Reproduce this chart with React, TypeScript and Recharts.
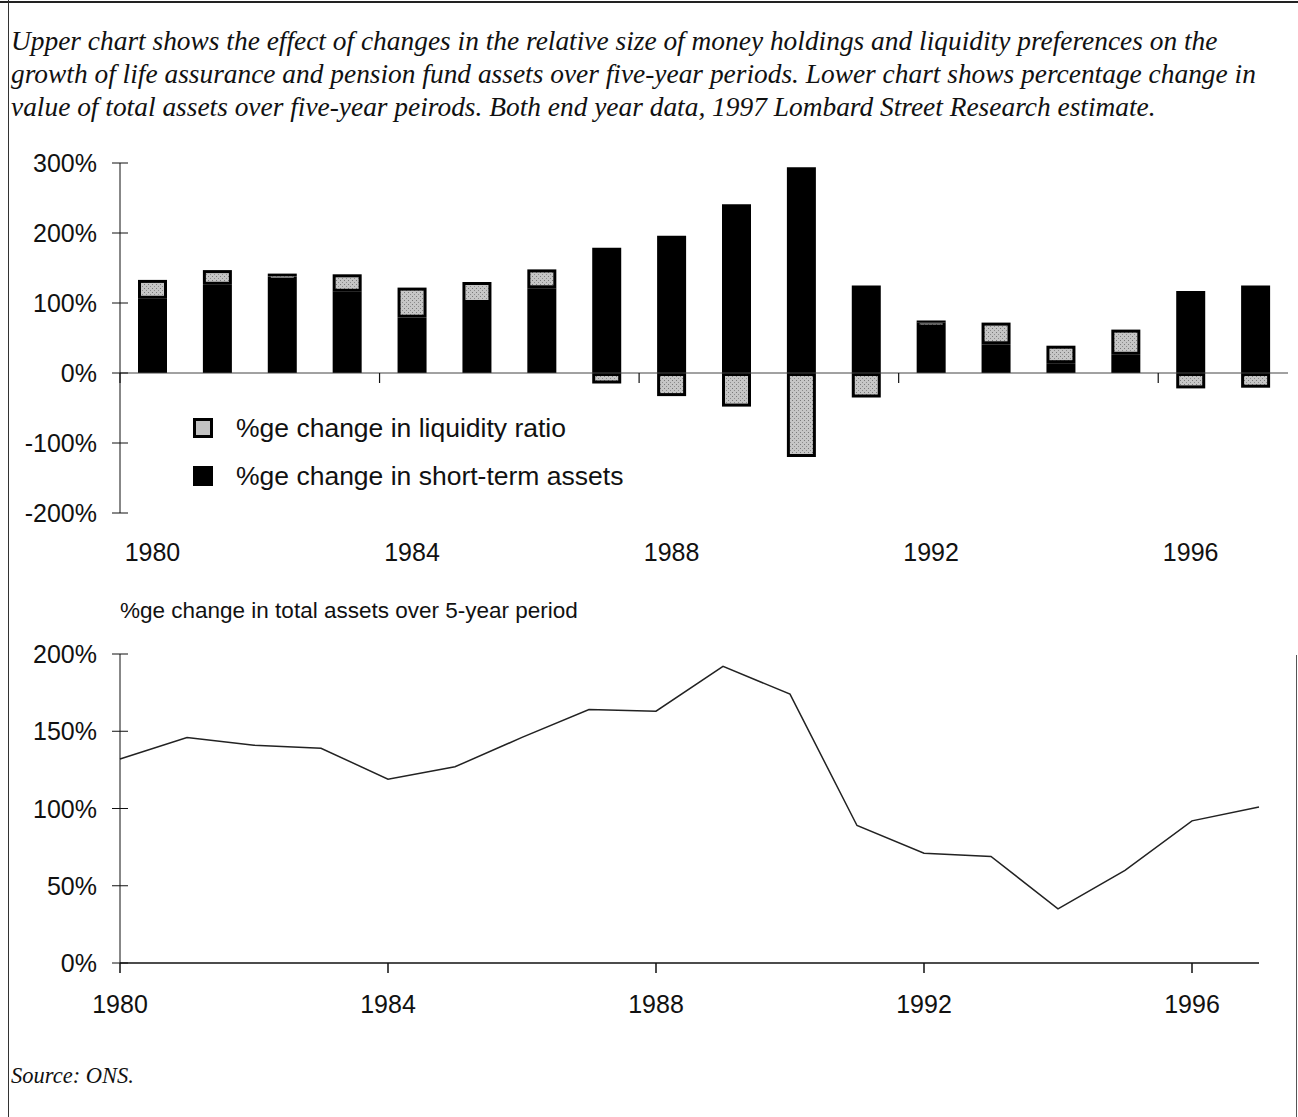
import { BarChart, Bar, XAxis, YAxis, ReferenceLine, Legend, LineChart, Line } from 'recharts'

const years = [1980, 1981, 1982, 1983, 1984, 1985, 1986, 1987, 1988, 1989, 1990, 1991, 1992, 1993, 1994, 1995, 1996, 1997]
const shortTermChange = [106, 126, 138, 116, 79, 100, 121, 179, 196, 241, 294, 125, 72, 41, 14, 26, 117, 125]
const liquidityChange = [27, 21, 4, 25, 43, 30, 27, -15, -33, -48, -120, -35, 3, 31, 25, 36, -22, -21]
const totalAssetsChange = [132, 146, 141, 139, 119, 127, 146, 164, 163, 192, 174, 89, 71, 69, 35, 60, 92, 101]

const upperTicks = [-200, -100, 0, 100, 200, 300]
const lowerTicks = [0, 50, 100, 150, 200]
const yearTicks = [1980, 1984, 1988, 1992, 1996]

const barData = years.map((y, i) => ({
  year: String(y),
  shortTerm: shortTermChange[i],
  liquidity: liquidityChange[i],
}))

const lineData = years.map((y, i) => ({ year: y, total: totalAssetsChange[i] }))

const SANS = '"Liberation Sans", Arial, Helvetica, sans-serif'
const SERIF = '"Liberation Serif", "Times New Roman", serif'
const INK = '#111'

function PercentTick({ x, y, payload }: any) {
  return (
    <g>
      <line x1={x - 8} x2={x + 8} y1={y} y2={y} stroke={INK} strokeWidth={1} />
      <text x={x - 23} y={y} dy="0.36em" textAnchor="end" fontSize={25} fontFamily={SANS} fill={INK}>
        {payload.value}%
      </text>
    </g>
  )
}

function BarYearTick({ x, y, payload }: any) {
  return (
    <text x={x} y={y} dy={48} textAnchor="middle" fontSize={25} fontFamily={SANS} fill={INK}>
      {payload.value}
    </text>
  )
}

function LineYearTick({ x, y, payload }: any) {
  return (
    <g>
      <line x1={x} x2={x} y1={y} y2={y + 10} stroke={INK} strokeWidth={1.5} />
      <text x={x} y={y} dy={50} textAnchor="middle" fontSize={25} fontFamily={SANS} fill={INK}>
        {payload.value}
      </text>
    </g>
  )
}

// grey box with a black frame, like the scanned original
function LiquidityShape({ x, y, width, height }: any) {
  if (!height) return null
  const top = Math.min(y, y + height)
  const h = Math.abs(height)
  const inset = 3
  return (
    <g>
      <rect x={x} y={top} width={width} height={h} fill="#000" />
      <rect
        x={x + inset}
        y={top + inset}
        width={width - inset * 2}
        height={Math.max(1, h - inset * 2)}
        fill="url(#stipple)"
      />
    </g>
  )
}

// zero line with small ticks on every fourth category boundary
function ZeroAxis({ x1, x2, y1 }: any) {
  const band = (x2 - x1) / years.length
  const marks = [0, 4, 8, 12, 16]
  return (
    <g>
      <line x1={x1} x2={x2} y1={y1} y2={y1} stroke="#444" strokeWidth={1} />
      {marks.map((m) => (
        <line key={m} x1={x1 + m * band} x2={x1 + m * band} y1={y1} y2={y1 + 10} stroke={INK} strokeWidth={1.2} />
      ))}
    </g>
  )
}

function LegendBox({ payload }: any) {
  const items = [...(payload || [])].sort((a: any, b: any) =>
    a.dataKey === 'liquidity' ? -1 : b.dataKey === 'liquidity' ? 1 : 0
  )
  return (
    <div style={{ fontFamily: SANS, fontSize: 26.5, color: INK }}>
      {items.map((item: any) => (
        <div key={item.dataKey} style={{ display: 'flex', alignItems: 'center', height: 48 }}>
          <span
            style={{
              display: 'inline-block',
              width: 20,
              height: 20,
              boxSizing: 'border-box',
              background: item.dataKey === 'liquidity' ? '#c2c2c2' : '#000',
              border: '3px solid #000',
              marginRight: 23,
            }}
          />
          <span>{item.value}</span>
        </div>
      ))}
    </div>
  )
}

const captionLines = [
  'Upper chart shows the effect of changes in the relative size of money holdings and liquidity preferences on the',
  'growth of life assurance and pension fund assets over five-year periods. Lower chart shows percentage change in',
  'value of total assets over five-year peirods. Both end year data, 1997 Lombard Street Research estimate.',
]

export default function App() {
  return (
    <div style={{ position: 'absolute', left: 0, top: 0, width: 1298, height: 1117, background: '#fff' }}>
      {/* page frame */}
      <div style={{ position: 'absolute', left: 0, top: 1, width: 1298, height: 2, background: '#222' }} />
      <div style={{ position: 'absolute', left: 8, top: 0, width: 1, height: 1117, background: '#333' }} />
      <div style={{ position: 'absolute', left: 1296, top: 655, width: 1, height: 462, background: '#555' }} />

      <div
        style={{
          position: 'absolute',
          left: 11,
          top: 25,
          fontFamily: SERIF,
          fontStyle: 'italic',
          fontSize: 27.4,
          lineHeight: '33px',
          color: INK,
          whiteSpace: 'nowrap',
        }}
      >
        {captionLines.map((l) => (
          <div key={l}>{l}</div>
        ))}
      </div>

      <div style={{ position: 'absolute', left: 0, top: 140 }}>
        <BarChart
          width={1298}
          height={430}
          data={barData}
          stackOffset="sign"
          barSize={29}
          margin={{ top: 23, right: 10, bottom: 0, left: 0 }}
        >
          <defs>
            <pattern id="stipple" width="4" height="4" patternUnits="userSpaceOnUse">
              <rect width="4" height="4" fill="#c6c6c6" />
              <rect x="0" y="0" width="1" height="1" fill="#7a7a7a" />
              <rect x="2" y="2" width="1" height="1" fill="#8c8c8c" />
            </pattern>
          </defs>
          <XAxis
            dataKey="year"
            interval={3}
            axisLine={false}
            tickLine={false}
            tickSize={0}
            tickMargin={0}
            height={57}
            tick={<BarYearTick />}
          />
          <YAxis
            domain={[-200, 300]}
            ticks={upperTicks}
            width={120}
            axisLine={{ stroke: INK, strokeWidth: 1 }}
            tickLine={false}
            tickSize={0}
            tickMargin={0}
            tick={<PercentTick />}
          />
          <ReferenceLine y={0} shape={(p: any) => <ZeroAxis {...p} />} />
          <Bar
            dataKey="shortTerm"
            name="%ge change in short-term assets"
            stackId="a"
            fill="#000"
            isAnimationActive={false}
          />
          <Bar
            dataKey="liquidity"
            name="%ge change in liquidity ratio"
            stackId="a"
            fill="#c2c2c2"
            shape={(p: any) => <LiquidityShape {...p} />}
            isAnimationActive={false}
          />
          <Legend
            layout="horizontal"
            verticalAlign="middle"
            align="center"
            wrapperStyle={{ left: 193, top: 264, width: 'auto' }}
            content={<LegendBox />}
          />
        </BarChart>
      </div>

      <div
        style={{
          position: 'absolute',
          left: 120,
          top: 597,
          fontFamily: SANS,
          fontSize: 22.5,
          lineHeight: '28px',
          color: INK,
          whiteSpace: 'nowrap',
        }}
      >
        %ge change in total assets over 5-year period
      </div>

      <div style={{ position: 'absolute', left: 0, top: 630 }}>
        <LineChart width={1298} height={393} data={lineData} margin={{ top: 24, right: 39, bottom: 0, left: 0 }}>
          <XAxis
            dataKey="year"
            type="number"
            domain={[1980, 1997]}
            ticks={yearTicks}
            axisLine={{ stroke: INK, strokeWidth: 1.5 }}
            tickLine={false}
            tickSize={0}
            tickMargin={0}
            height={60}
            tick={<LineYearTick />}
          />
          <YAxis
            domain={[0, 200]}
            ticks={lowerTicks}
            width={120}
            axisLine={{ stroke: INK, strokeWidth: 1 }}
            tickLine={false}
            tickSize={0}
            tickMargin={0}
            tick={<PercentTick />}
          />
          <Line
            type="linear"
            dataKey="total"
            stroke="#222"
            strokeWidth={1.5}
            dot={false}
            isAnimationActive={false}
          />
        </LineChart>
      </div>

      <div
        style={{
          position: 'absolute',
          left: 11,
          top: 1059,
          fontFamily: SERIF,
          fontStyle: 'italic',
          fontSize: 22.5,
          lineHeight: '33px',
          color: INK,
        }}
      >
        Source: ONS.
      </div>
    </div>
  )
}
